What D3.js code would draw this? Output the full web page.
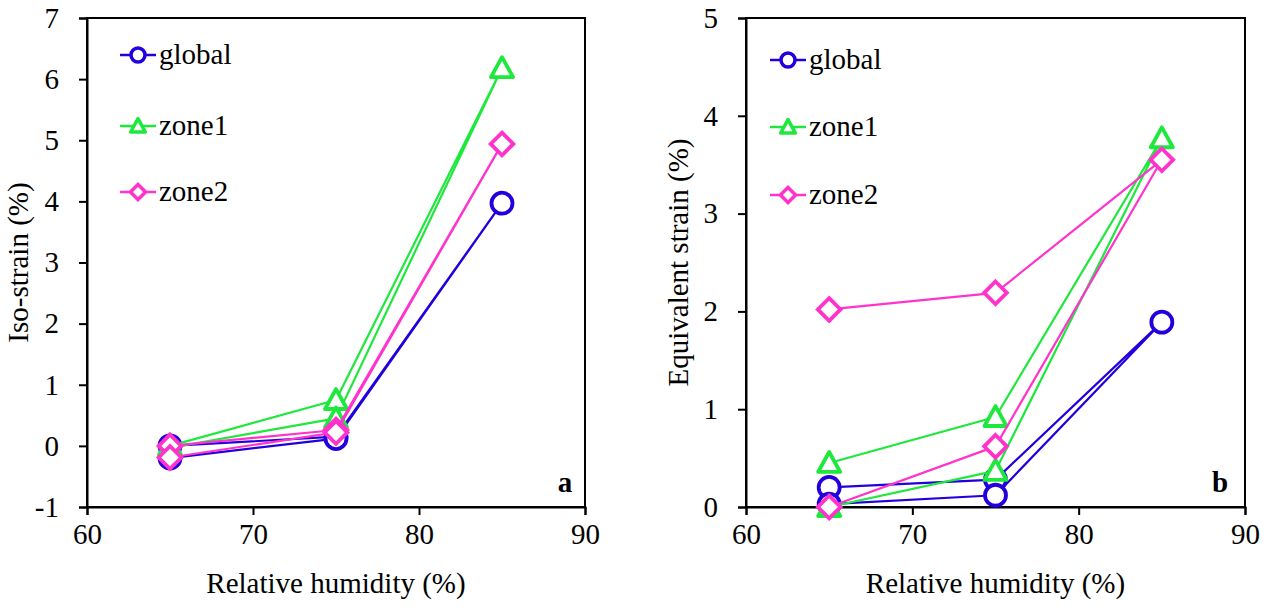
<!DOCTYPE html>
<html><head><meta charset="utf-8">
<script src="https://cdn.jsdelivr.net/npm/d3@7"></script>
<style>body{margin:0;background:#fff}svg{display:block}text{font-family:"Liberation Serif","Times New Roman",serif}</style>
</head><body>
<svg id="c" width="1274" height="608"></svg>
<script>
// Data (loop: 65 -> 75 -> 85 -> 75 -> 65)
const humidity = [65, 75, 85, 75, 65];
const xTicks = [60, 70, 80, 90];
const seriesNames = ["global", "zone1", "zone2"];

const isoGlobal = [0, 0.15, 3.97, 0.12, -0.2];
const isoZone1  = [0, 0.75, 6.18, 0.45, -0.03];
const isoZone2  = [0, 0.26, 4.94, 0.22, -0.19];
const isoTicks  = [-1, 0, 1, 2, 3, 4, 5, 6, 7];

const eqGlobal = [0.2, 0.28, 1.89, 0.12, 0.03];
const eqZone1  = [0.45, 0.92, 3.77, 0.37, 0];
const eqZone2  = [2.02, 2.19, 3.55, 0.62, 0];
const eqTicks  = [0, 1, 2, 3, 4, 5];

const colors = {global: "#2200dd", zone1: "#1ee83c", zone2: "#ff33cc"};
const shapes = {global: "circle", zone1: "triangle", zone2: "diamond"};
const FS = 29;

const svg = d3.select("#c");

function marker(g, shape, x, y, s, color, sw) {
  if (shape === "circle") {
    g.append("circle").attr("cx", x).attr("cy", y).attr("r", s)
      .attr("fill", "#fff").attr("stroke", color).attr("stroke-width", sw);
  } else if (shape === "triangle") {
    const h = s * 1.9, w = s * 1.05;
    g.append("path").attr("d", `M${x},${y - h*0.55}L${x + w},${y + h*0.45}L${x - w},${y + h*0.45}Z`)
      .attr("fill", "#fff").attr("stroke", color).attr("stroke-width", sw).attr("stroke-linejoin", "round");
  } else {
    const d = s * 1.08;
    g.append("path").attr("d", `M${x},${y - d}L${x + d},${y}L${x},${y + d}L${x - d},${y}Z`)
      .attr("fill", "#fff").attr("stroke", color).attr("stroke-width", sw).attr("stroke-linejoin", "miter");
  }
}

function panel(opt) {
  const x = d3.scaleLinear().domain([60, 90]).range([opt.left, opt.right]);
  const y = d3.scaleLinear().domain(opt.domain).range([opt.bottom, opt.top]);
  const g = svg.append("g");

  g.append("rect").attr("x", opt.left).attr("y", opt.top)
    .attr("width", opt.right - opt.left).attr("height", opt.bottom - opt.top)
    .attr("fill", "none").attr("stroke", "#000").attr("stroke-width", 2);

  const fmt = d => String(d);
  const xa = g.append("g").attr("transform", `translate(0,${opt.bottom})`)
    .call(d3.axisBottom(x).tickValues(xTicks).tickSize(8).tickPadding(8).tickFormat(fmt));
  const ya = g.append("g").attr("transform", `translate(${opt.left},0)`)
    .call(d3.axisLeft(y).tickValues(opt.ticks).tickSize(8).tickPadding(20).tickFormat(fmt));
  [xa, ya].forEach(a => {
    a.select(".domain").attr("stroke-width", 2);
    a.selectAll(".tick line").attr("stroke-width", 2);
    a.selectAll("text").attr("font-size", FS).attr("fill", "#000")
      .style("font-family", '"Liberation Serif","Times New Roman",serif');
  });

  g.append("text").attr("x", (opt.left + opt.right) / 2).attr("y", 593)
    .attr("text-anchor", "middle").attr("font-size", FS).text("Relative humidity (%)");
  g.append("text").attr("transform", `translate(${opt.titleX},${(opt.top + opt.bottom) / 2}) rotate(-90)`)
    .attr("text-anchor", "middle").attr("font-size", FS).text(opt.yTitle);
  g.append("text").attr("x", opt.letterX).attr("y", 492).attr("text-anchor", "middle")
    .attr("font-size", FS).attr("font-weight", "bold").text(opt.letter);

  const line = d3.line().x((d, i) => x(humidity[i])).y(d => y(d));
  seriesNames.forEach((name, k) => {
    const vals = opt.data[k];
    const sg = g.append("g");
    sg.append("path").attr("d", line(vals)).attr("fill", "none")
      .attr("stroke", colors[name]).attr("stroke-width", 2.2).attr("stroke-linejoin", "round");
    vals.forEach((v, i) => marker(sg, shapes[name], x(humidity[i]), y(v), 10.5, colors[name], 3.8));
  });

  seriesNames.forEach((name, k) => {
    const ly = opt.legY[k];
    g.append("line").attr("x1", opt.legX).attr("x2", opt.legX + 36).attr("y1", ly).attr("y2", ly)
      .attr("stroke", colors[name]).attr("stroke-width", 2.5);
    marker(g, shapes[name], opt.legX + 18, ly, 7, colors[name], 3.5);
    g.append("text").attr("x", opt.legX + 39).attr("y", ly + 9).attr("font-size", FS).text(name);
  });
}

panel({left: 87, right: 585, top: 18, bottom: 507, domain: [-1, 7], ticks: isoTicks,
  data: [isoGlobal, isoZone1, isoZone2], yTitle: "Iso-strain (%)", titleX: 28,
  letter: "a", letterX: 565, legX: 120, legY: [55, 126, 192]});
panel({left: 746, right: 1245, top: 18, bottom: 507, domain: [0, 5], ticks: eqTicks,
  data: [eqGlobal, eqZone1, eqZone2], yTitle: "Equivalent strain (%)", titleX: 688,
  letter: "b", letterX: 1220, legX: 770, legY: [60, 127, 195]});
</script>
</body></html>
